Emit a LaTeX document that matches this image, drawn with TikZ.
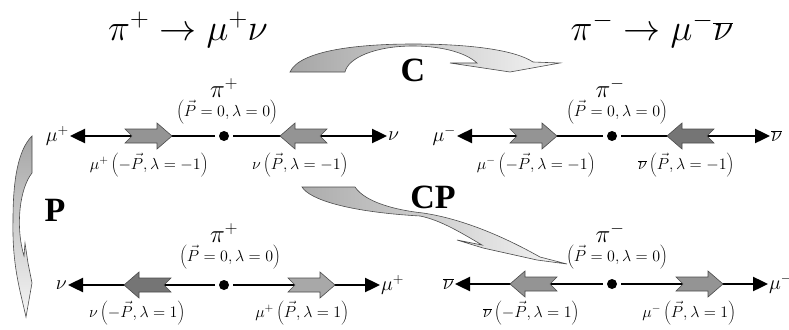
\RequirePackage{fix-cm}
\documentclass[tikz,border=0pt]{standalone}
\usepackage{fontspec}
\setmainfont{Liberation Serif}
\usetikzlibrary{arrows.meta}
\definecolor{fatmid}{gray}{0.58}
\definecolor{fatdark}{gray}{0.46}
\definecolor{fatlight}{gray}{0.66}
\begin{document}
\begin{tikzpicture}[x=1pt,y=-1pt,
  axis/.style={line width=2.4pt,-{Triangle[length=15pt,width=14pt]}},
  dot/.style={circle,fill,inner sep=0pt,minimum size=10pt,outer sep=4pt},
  ends/.style={inner sep=1pt,font=\fontsize{20}{22}\selectfont},
  pion/.style={font=\fontsize{25}{28}\selectfont},
  mom/.style={font=\fontsize{16}{18}\selectfont},
  title/.style={font=\fontsize{37}{42}\selectfont},
  op/.style={font=\fontsize{34}{38}\selectfont\bfseries},
  fatline/.style={draw=black!70,line width=0.6pt},
  ribbon/.style={draw=black!70,line width=0.6pt},
  fatarrow/.pic={\filldraw[fatline,fill=#1] (0,0) -- (-15,-13) -- (-15,-7) -- (-47,-7) -- (-40,0) -- (-47,7) -- (-15,7) -- (-15,13) -- cycle;}]
\useasboundingbox (0,0) rectangle (789,329);

\shadedraw[ribbon,left color=gray!70,right color=gray!8] (290,72) .. controls (300,50) and (360,44) .. (413,44) .. controls (470,44) and (515,50) .. (533,62) -- (560,63) -- (510,72) -- (450,63) -- (477,63) .. controls (465,52) and (440,46) .. (413,46) .. controls (375,46) and (348,58) .. (345,72) -- cycle;
\shadedraw[ribbon,top color=gray!70,bottom color=gray!8] (32,136) -- (32,173) .. controls (20,188) and (15,225) .. (24,256) -- (25,243) -- (28,263) -- (32,283) -- (26,317) .. controls (20,290) and (12,265) .. (13,220) .. controls (13,180) and (18,150) .. (32,136) -- cycle;
\shadedraw[ribbon,left color=gray!65,right color=gray!8] (302,187) -- (355,187) .. controls (365,202) and (395,210) .. (423,213) .. controls (470,220) and (515,243) .. (540,257) -- (567,264) -- (537,260) -- (483,248) -- (457,240) -- (482,245) .. controls (460,232) and (440,220) .. (420,216) .. controls (350,212) and (310,200) .. (302,187) -- cycle;
\node[op] (opC) at (413,70) {C};
\node[op] (opP) at (55,210) {P};
\node[op] (opCP) at (433,197) {CP};

\node[title] (ttl1) at (188,30) {$\pi^+\rightarrow\mu^+\nu$};
\node[dot] (d1) at (224,136) {};
\node[pion] (pi1) at (224,88) {$\pi^+$};
\node[mom] (m1) at (227,112) {$\left(\vec P=0,\lambda=0\right)$};
\node[ends,anchor=east] (a1) at (70,136) {$\mu^+$};
\node[ends,anchor=west] (b1) at (387,136) {$\nu$};
\draw[axis] (d1) -- (a1);
\draw[axis] (d1) -- (b1);
\pic at (172,136) {fatarrow=fatmid};
\pic[rotate=180] at (280,136) {fatarrow=fatmid};
\node[mom] (l1) at (149,165) {$\mu^+\left(-\vec P,\lambda=-1\right)$};
\node[mom] (r1) at (300,165) {$\nu\left(\vec P,\lambda=-1\right)$};

\node[title] (ttl2) at (652,30) {$\pi^-\rightarrow\mu^-\overline{\nu}$};
\node[dot] (d2) at (612,136) {};
\node[pion] (pi2) at (610,88) {$\pi^-$};
\node[mom] (m2) at (617,112) {$\left(\vec P=0,\lambda=0\right)$};
\node[ends,anchor=east] (a2) at (457,136) {$\mu^-$};
\node[ends,anchor=west] (b2) at (770,136) {$\overline{\nu}$};
\draw[axis] (d2) -- (a2);
\draw[axis] (d2) -- (b2);
\pic at (557,136) {fatarrow=fatmid};
\pic[rotate=180] at (667,136) {fatarrow=fatdark};
\node[mom] (l2) at (536,165) {$\mu^-\left(-\vec P,\lambda=-1\right)$};
\node[mom] (r2) at (686,165) {$\overline{\nu}\left(\vec P,\lambda=-1\right)$};

\node[dot] (d3) at (224,285) {};
\node[pion] (pi3) at (224,233) {$\pi^+$};
\node[mom] (m3) at (230,257) {$\left(\vec P=0,\lambda=0\right)$};
\node[ends,anchor=east] (a3) at (68,285) {$\nu$};
\node[ends,anchor=west] (b3) at (380,285) {$\mu^+$};
\draw[axis] (d3) -- (a3);
\draw[axis] (d3) -- (b3);
\pic[rotate=180] at (124,285) {fatarrow=fatdark};
\pic at (335,285) {fatarrow=fatlight};
\node[mom] (l3) at (137,313) {$\nu\left(-\vec P,\lambda=1\right)$};
\node[mom] (r3) at (302,313) {$\mu^+\left(\vec P,\lambda=1\right)$};

\node[dot] (d4) at (612,284) {};
\node[pion] (pi4) at (610,233) {$\pi^-$};
\node[mom] (m4) at (617,257) {$\left(\vec P=0,\lambda=0\right)$};
\node[ends,anchor=east] (a4) at (455,284) {$\overline{\nu}$};
\node[ends,anchor=west] (b4) at (768,284) {$\mu^-$};
\draw[axis] (d4) -- (a4);
\draw[axis] (d4) -- (b4);
\pic[rotate=180] at (510,284) {fatarrow=fatmid};
\pic at (723,284) {fatarrow=fatmid};
\node[mom] (l4) at (531,313) {$\overline{\nu}\left(-\vec P,\lambda=1\right)$};
\node[mom] (r4) at (689,313) {$\mu^-\left(\vec P,\lambda=1\right)$};
\end{tikzpicture}
\end{document}
